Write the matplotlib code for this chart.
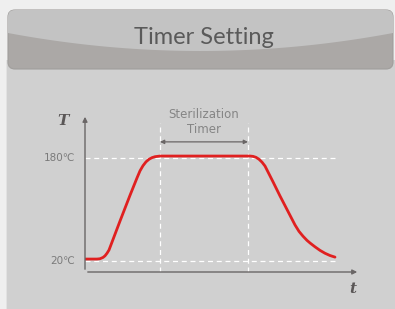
import numpy as np
import matplotlib.pyplot as plt
from matplotlib.patches import FancyBboxPatch, Rectangle, Polygon

# curve (time in arbitrary units, temperature in C)
time = [0, 12, 15, 18, 20, 22, 24, 35, 45, 52, 55, 58, 61, 64, 67, 70, 75,
        165, 168, 171, 174, 177, 180, 188, 195, 203, 210, 214, 218, 222, 225, 230, 235, 240, 245, 250]
temp = [23, 23, 23.5, 25.5, 28, 32, 37, 82, 122, 149, 160, 168, 174, 178, 180.5, 182, 183,
        183, 182.5, 181, 178, 173.5, 167.5, 143, 121, 97, 76, 66, 58.5, 52, 48, 42, 36.5, 32, 28.5, 26]
levels = [20, 180]
level_labels = ['20\u2103', '180\u2103']
timer_span = [75, 163]

W, H = 395, 309
fig = plt.figure(figsize=(W / 100, H / 100), dpi=100)
fig.patch.set_facecolor('#efefef')

# background layer in pixel coordinates
bg = fig.add_axes([0, 0, 1, 1])
bg.set_xlim(0, W)
bg.set_ylim(H, 0)
bg.axis('off')
bg.add_patch(Rectangle((7, 60), 388, 260, facecolor='#d0d0d0', edgecolor='none'))
bg.add_patch(Rectangle((6, 60), 1.2, 260, facecolor='#e2e2e2', edgecolor='none'))
header = FancyBboxPatch((8, 10), 385, 59, boxstyle='round,pad=0,rounding_size=7',
                        facecolor='#aba8a6', edgecolor='#a09e9c', lw=0.8)
bg.add_patch(header)
xs = np.linspace(0, 395, 80)
ys = 33 + 18 * (1 - ((xs - 200.5) / 192.5) ** 2)
top = Polygon(np.column_stack([np.r_[xs, 395, 0], np.r_[ys, 0, 0]]),
              closed=True, facecolor='#c3c3c3', edgecolor='none')
bg.add_patch(top)
top.set_clip_path(header)
bg.text(204, 38, 'Timer Setting', ha='center', va='center', fontsize=17,
        family='Lato', color='#5a5a5a')

# chart axes: x 0..275 -> px 85..360, y 2.9..248.3 -> px 272..114
ax = fig.add_axes([85 / W, (H - 272) / H, 275 / W, (272 - 114) / H])
ax.set_xlim(0, 275)
ax.set_ylim(2.9, 248.3)
ax.axis('off')
ax.patch.set_alpha(0)

for lv, lab in zip(levels, level_labels):
    ax.plot([0, 251], [lv, lv], color='white', lw=0.9, ls=(0, (4, 3)))
    ax.text(-10, lv, lab, ha='right', va='center', fontsize=7.5, color='#7a7a7a')
for tx in timer_span:
    ax.plot([tx, tx], [2.9, 234], color='white', lw=0.9, ls=(0, (4, 3)))

ax.annotate('', xy=(0, 248.3), xytext=(0, 2.9),
            arrowprops=dict(arrowstyle='-|>', color='#6a6666', lw=1.0, mutation_scale=7))
ax.annotate('', xy=(275, 2.9), xytext=(0, 2.9),
            arrowprops=dict(arrowstyle='-|>', color='#6a6666', lw=1.0, mutation_scale=7))
ax.annotate('', xy=(timer_span[0], 205), xytext=(timer_span[1], 205),
            arrowprops=dict(arrowstyle='<|-|>', color='#6a6666', lw=0.9, mutation_scale=6,
                            shrinkA=0, shrinkB=0))
ax.text(119, 235.5, 'Sterilization\nTimer', ha='center', va='center', fontsize=8.5,
        color='#858585', linespacing=1.25)

ax.plot(time, temp, color='#e02020', lw=2, solid_capstyle='round', solid_joinstyle='round')

ax.text(-22, 238, 'T', ha='center', va='center', fontsize=11, family='DejaVu Serif',
        style='italic', weight='bold', color='#5a5656')
ax.text(268, -24, 't', ha='center', va='center', fontsize=11, family='DejaVu Serif',
        style='italic', weight='bold', color='#5a5656')

fig.savefig('out.png', dpi=100, facecolor=fig.get_facecolor())
